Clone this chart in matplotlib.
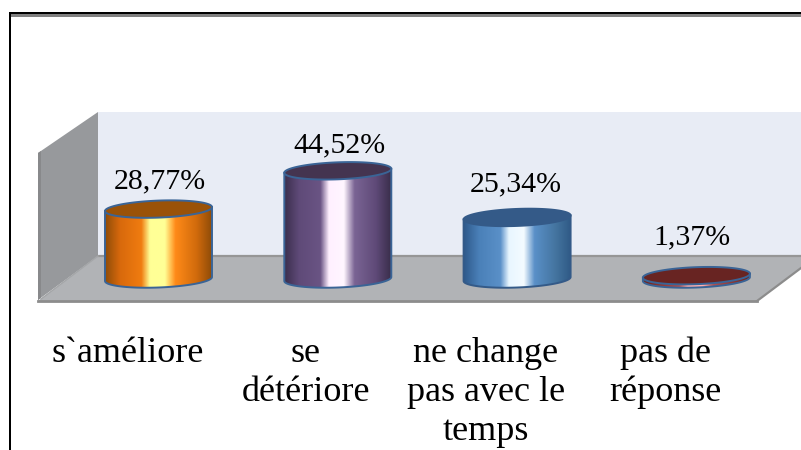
import numpy as np
import matplotlib
matplotlib.use("Agg")
import matplotlib.pyplot as plt
from matplotlib.colors import LinearSegmentedColormap
from matplotlib.patches import Polygon, PathPatch
from matplotlib.path import Path

plt.rcParams['font.family'] = ['Liberation Serif', 'DejaVu Serif']

# data
categories = ["s`améliore", "se\ndétériore", "ne change\npas avec le\ntemps", "pas de\nréponse"]
values = [28.77, 44.52, 25.34, 1.37]
value_labels = ["28,77%", "44,52%", "25,34%", "1,37%"]

# side-lit look of each cylinder, left to right
stop_pos = [0, 0.14, 0.34, 0.42, 0.56, 0.66, 0.86, 1]
body_stops = [
    ["#8f4c08", "#d8690c", "#f07c10", "#ffff96", "#ffff96", "#ff8a18", "#d06a0c", "#8f4c08"],
    ["#3a2e4c", "#5f4a78", "#6a5484", "#fff0ff", "#fff6ff", "#7a6494", "#5f4a78", "#3a2e4c"],
    ["#2f5a8c", "#4a80b8", "#5a90c8", "#e8f6ff", "#f4fbff", "#5a90c8", "#44749f", "#2f5a86"],
    ["#68221f", "#8a3430", "#b05050", "#ffb0b0", "#ffb0b0", "#b05050", "#8a3430", "#68221f"],
]
top_colors = ["#9a5208", "#443450", "#345a88", "#682422"]
edge_colors = ["#3a6496", "#3a6496", "#345a88", "#3a6496"]

# pixel layout
W, H = 801, 450
first_x, step_x = 158.5, 179.3
base_y, px_per_pct = 279.0, 2.43
cyl_w, ell_h, tilt_px = 107.0, 17.0, 2.0
label_gap = [21, 18, 26, 31]
value_x = [160, 339, 516, 692]
cat_x = [128, 306, 486, 665]
cat_baseline = 362
line_step = 39

fig = plt.figure(figsize=(W / 100, H / 100), dpi=100, facecolor="white")

# background: frame and 3d box, in pixels
bg = fig.add_axes([0, 0, 1, 1])
bg.set_xlim(0, W)
bg.set_ylim(H, 0)
bg.axis("off")
bg.fill_between([11, W], 14, 17, color="#808080", lw=0)
bg.fill_between([9, W], 12, 14, color="black", lw=0)
bg.fill_between([9, 11], 12, H, color="black", lw=0)
bg.add_patch(Polygon([(98, 112), (W, 112), (W, 256), (98, 256)], fc="#e8ecf5", ec="none"))
bg.add_patch(Polygon([(38, 153), (98, 112), (98, 256), (38, 300)], fc="#97999c", ec="none"))
bg.add_patch(Polygon([(38, 153), (41, 151), (41, 298), (38, 300)], fc="#88898b", ec="none"))
bg.add_patch(Polygon([(98, 256), (W, 256), (W, 268), (757, 301), (38, 301)], fc="#b1b3b6", ec="none"))
bg.plot([98, W], [256, 256], color="#969696", lw=1.6)
bg.plot([38, 757], [301, 301], color="#8c8c8c", lw=2)
bg.plot([757, W], [301, 268], color="#8c8c8c", lw=1.6)
bg.plot([98, 41], [256, 299], color="#a4a6a8", lw=1)

# chart axes lined up on the box, x in categories and y in percent
ax = fig.add_axes([0, 0, 1, 1])
ax.patch.set_alpha(0)
ax.set_xlim(-first_x / step_x, (W - first_x) / step_x)
ax.set_ylim((base_y - H) / px_per_pct, base_y / px_per_pct)
ax.axis("off")

half_w = cyl_w / step_x / 2
half_h = ell_h / px_per_pct / 2
tilt = tilt_px / px_per_pct
theta = np.linspace(0, 2 * np.pi, 121)


def ring(center_x, center_y, t):
    # slightly tilted ellipse, the right end sits higher than the left
    return (center_x + half_w * np.cos(t),
            center_y + half_h * np.sin(t) + tilt * np.cos(t))


for i, v in enumerate(values):
    low_x, low_y = ring(i, 0, theta[60:121])
    body = np.column_stack([
        np.r_[low_x, i + half_w, i - half_w],
        np.r_[low_y, v + tilt, v - tilt],
    ])
    patch = PathPatch(Path(np.r_[body, body[:1]], closed=True), fc="none", ec=edge_colors[i], lw=1.4, zorder=3)
    ax.add_patch(patch)
    cmap = LinearSegmentedColormap.from_list("cyl", list(zip(stop_pos, body_stops[i])))
    grad = np.linspace(0, 1, 256).reshape(1, -1)
    img = ax.imshow(grad, cmap=cmap, aspect="auto", zorder=2, interpolation="bilinear",
                    extent=[i - half_w, i + half_w, -half_h * 1.5, v + half_h * 1.5])
    img.set_clip_path(patch)
    top_x, top_y = ring(i, v, theta)
    ax.add_patch(Polygon(np.column_stack([top_x, top_y]), fc=top_colors[i], ec=edge_colors[i], lw=1.4, zorder=4))
    ax.annotate(value_labels[i], xy=(i, v), xycoords="data", zorder=5,
                xytext=(value_x[i] - first_x - step_x * i, label_gap[i]),
                textcoords="offset pixels", ha="center", va="baseline", fontsize=21.5, color="black")

ax.set_xlim(-first_x / step_x, (W - first_x) / step_x)
ax.set_ylim((base_y - H) / px_per_pct, base_y / px_per_pct)

# category labels
for x, name in zip(cat_x, categories):
    for k, line in enumerate(name.split("\n")):
        bg.text(x, cat_baseline + line_step * k, line, ha="center", va="baseline",
                fontsize=26, color="black", zorder=6)

fig.savefig("out.png", dpi=100)
